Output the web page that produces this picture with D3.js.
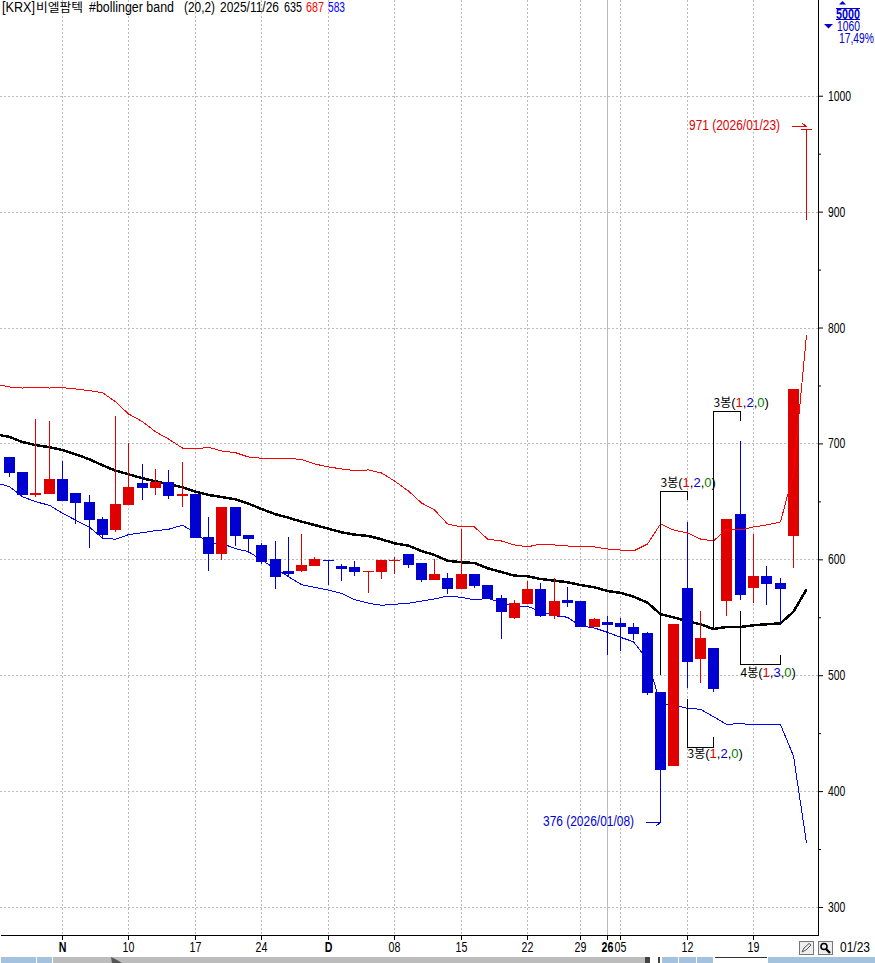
<!DOCTYPE html>
<html>
<head>
<meta charset="utf-8">
<style>
    html, body { margin: 0; padding: 0; background: #fff; overflow: hidden; }
    svg { display: block; }
    text { font-family: "Liberation Sans", sans-serif; font-size: 14px; }
    .note { font-size: 13px; }
    .kr { font-family: "Noto Sans CJK KR", sans-serif; font-size: 12px; }
</style>
</head>
<body>
<div id="chart"></div>
<script src="https://cdn.jsdelivr.net/npm/d3@7"></script>
<script>
// trading days, first one only carries the band lines (its candle is off screen)
const dates = ["10/27","10/28","10/29","10/30","10/31","11/03","11/04","11/05","11/06","11/07","11/10","11/11","11/12","11/13","11/14","11/17","11/18","11/19","11/20","11/21","11/24","11/25","11/26","11/27","11/28","12/01","12/02","12/03","12/04","12/05","12/08","12/09","12/10","12/11","12/12","12/15","12/16","12/17","12/18","12/19","12/22","12/23","12/24","12/26","12/29","12/30","01/02","01/05","01/06","01/07","01/08","01/09","01/12","01/13","01/14","01/15","01/16","01/19","01/20","01/21","01/22","01/23"];

const opens = [688.3,675.4,655.5,656.4,669.3,657.2,649.5,634.8,625.3,646.9,665.9,661.5,666.7,654.7,656.4,619.3,604.6,645.2,621,612.4,600.3,589.9,589.9,594.2,599.4,594.2,593.4,589,589,598.6,604.6,596.8,582.2,583.9,574.4,587.3,577.8,566.6,549.4,561.5,574.4,551.1,564.9,564,541.6,545.9,545,541.6,536.4,485.5,421.7,575.3,514,523.5,564,639.1,575.3,585.6,579.6,620.1,970.5];
const closes = [674.5,655.5,657.2,669.3,650.3,648.6,633.9,621,647.7,662.4,661.5,666.7,654.7,656.4,618.4,604.6,645.2,620.1,617.5,597.7,584.8,587.3,595.1,600.3,598.6,591.7,589,589.9,599.4,599.4,595.1,582.2,587.3,574.4,587.3,576.9,565.8,554.6,562.3,574.4,551.1,564,562.3,541.6,548.5,543.3,541.6,535.6,484.6,418.2,544.2,511.4,532.1,488.1,634.8,569.2,585.6,578.7,574.4,746.9,971];
const highs = [688.3,675.4,721.1,719.4,684.9,657.2,655.5,636.5,723.7,700.4,682.3,677.9,677.1,684,656.4,636.5,645.2,645.2,621,614.1,615.8,619.3,621.9,602,599.4,596,598.6,589.9,599.4,602,604.6,596.8,600.3,588.2,626.2,587.3,577.8,569.2,564.9,581.3,579.6,583.9,576.1,564,549.4,551.1,549.4,545,537.3,485.5,544.2,632.2,555.4,523.5,634.8,702.1,621.9,594.2,583.9,746.9,971];
const lows = [671,655.5,653.8,656.4,650.3,630.5,609.8,617.5,623.6,646.9,651.2,655.5,652.1,645.2,618.4,589.9,599.4,611.5,605.5,596,574.4,585.6,589,594.2,577.8,581.3,585.6,570.9,583,587.3,592.5,580.4,582.2,570.1,574.4,575.3,565.8,531.3,548.5,561.5,550.3,548.5,558.9,541.6,541.6,517.5,520.9,530.4,482.9,373.3,421.7,488.9,493.3,485.5,551.1,564.9,562.3,560.6,545,592.5,892.8];

const upperBand = [751,748.7,747.8,748.3,747.8,748.1,747,745.5,743.8,736,725.4,718.8,710.1,703.8,696,695.2,696.7,693.5,692,688.3,687.2,687.2,687.2,686.1,682.3,679.7,678,676.6,677.1,674.5,667.6,658.9,648.6,642.6,630.5,627.9,627.9,617.5,615.8,612.4,610.7,613.2,612.4,611.5,611.1,610.7,608.9,608,607.2,613.2,630.5,625.3,622.7,617.5,615.8,626.2,625.3,627.9,629.6,632.2,674.5,793.6];
const midBand = [707.7,705.6,701.2,698.6,696.7,694.3,690.6,686.3,681.1,676.5,673.4,669.9,667.3,664.7,662.2,658.4,655.5,653.8,651.8,648,643.4,638.9,635.9,632.5,629.6,626.4,623.3,621.3,620.1,617.3,613.8,611.8,607.2,603.7,598.8,597.4,596.8,592.3,589,585.9,585.4,583,581.6,580.2,577.8,575.9,572.7,571,567.8,562.6,552.6,550,546.5,543.9,539.9,541.6,541.6,543.1,543.9,544.8,554.8,574.1];
const lowerBand = [665.9,662.7,654,649.7,646.6,639.7,633.9,627.6,618.4,617.3,621.3,623,624.7,625.9,629.4,623,613.8,613.8,609.2,606.6,599.4,591.9,585,578.1,575.9,573.5,570.7,565.2,562.1,560.3,561.2,562.1,564,565.8,568.3,567.2,564.9,566.4,562.6,559.7,559.5,554.8,551.4,550,542.5,540.7,537,532.7,528.9,513.1,475.2,474.6,471.4,470.6,464.2,457.6,458.2,457.3,457.3,457.3,430.3,355.2];

const priceTicks = [300,400,500,600,700,800,900,1000];
const minorTicks = [350,450,550,650,750,850,950];
const tickDates = ["11/03","11/10","11/17","11/24","12/01","12/08","12/15","12/22","12/29","01/02","01/05","01/12","01/19"];
const tickLabels = ["N","10","17","24","D","08","15","22","29","26","05","12","19"];
const boldLabels = ["N","D","26"];

// bar-count notes: the two dates a bracket spans, the price of its bar and of each leg's end
const brackets = [
    {from: "01/08", to: "01/12", price: 658.9, end0: 500.2, end1: 651.2, labelPrice: 666.7, label: "3봉", counts: [1,2,0]},
    {from: "01/14", to: "01/16", price: 728, end0: 539, end1: 719.4, labelPrice: 735.7, label: "3봉", counts: [1,2,0]},
    {from: "01/12", to: "01/14", price: 438, end0: 479.5, end1: 446.7, labelPrice: 432.9, label: "3봉", counts: [1,2,0]},
    {from: "01/16", to: "01/21", price: 509.7, end0: 555.4, end1: 517.5, labelPrice: 502.8, label: "4봉", counts: [1,3,0]}
];

const titleParts = ["[KRX]", "비엘팜텍", "#bollinger band", "(20,2)", "2025/11/26", "635", "687", "583"];
const titleX = [2, 36, 89, 184, 220, 284, 306, 328];
const titleW = [33, 47, 85, 31, 59, 18, 18, 17];
const titleColour = ["#000", "#000", "#000", "#000", "#000", "#000", "#ff0000", "#0000ff"];

const width = 875, height = 963, plotRight = 818, plotBottom = 935;
const RED = "#e00000", BLUE = "#0000d0";

// the original font is narrower than anything installed
const squeeze = (sel, w) => sel.each(function (d, i) {
    const target = typeof w === "function" ? w.call(this, d, i) : this.getComputedTextLength() * w;
    this.setAttribute("textLength", target);
    this.setAttribute("lengthAdjust", "spacingAndGlyphs");
});

const svg = d3.select("#chart").append("svg")
    .attr("width", width)
    .attr("height", height);

const x = d3.scalePoint().domain(dates).range([-3.99, 806.7]);
// snap every date to a whole pixel column
const xPx = d3.scaleOrdinal(dates, dates.map(d => Math.floor(x(d))));
const y = d3.scaleLinear().domain([275.84, 1082.6]).range([plotBottom, 0]);
const yPx = v => Math.round(y(v));

const candles = opens.map((o, i) => ({
    date: dates[i + 1], open: o, close: closes[i], high: highs[i], low: lows[i]
}));

// grid
svg.append("g").selectAll("line")
    .data(priceTicks)
    .join("line")
    .attr("x1", 0).attr("x2", plotRight)
    .attr("y1", d => yPx(d) + .5).attr("y2", d => yPx(d) + .5)
    .attr("stroke", "#bbb").attr("stroke-dasharray", "2 2");

svg.append("g").selectAll("line")
    .data(tickDates)
    .join("line")
    .attr("x1", d => xPx(d) + .5).attr("x2", d => xPx(d) + .5)
    .attr("y1", 0).attr("y2", plotBottom)
    .attr("stroke", "#bbb")
    .attr("stroke-dasharray", d => d === "01/02" ? null : "2 2");

const bandLine = d3.line().x((d, i) => xPx(dates[i]) + .5).y(d => y(d));

const drawBand = (values, colour, w) => svg.append("path")
    .attr("d", bandLine(values))
    .attr("fill", "none")
    .attr("stroke", colour)
    .attr("stroke-width", w)
    .attr("shape-rendering", "crispEdges");

drawBand(lowerBand, "#0000ff", 1);
drawBand(midBand, "#000", 2.5);

// candles
const candle = svg.append("g").selectAll("g")
    .data(candles)
    .join("g")
    .attr("fill", d => d.close >= d.open ? RED : BLUE);

candle.append("rect")
    .attr("x", d => xPx(d.date))
    .attr("width", 1)
    .attr("y", d => yPx(d.high))
    .attr("height", d => yPx(d.low) - yPx(d.high));

candle.append("rect")
    .attr("x", d => xPx(d.date) - 5)
    .attr("width", 11)
    .attr("y", d => yPx(Math.max(d.open, d.close)))
    .attr("height", d => Math.max(1, yPx(Math.min(d.open, d.close)) - yPx(Math.max(d.open, d.close))));

drawBand(upperBand, "#ff0000", 1);

// high and low call-outs
const callout = (date, price, colour, text, textX, dy, head) => {
    const px = xPx(date) + 1, py = yPx(price) + dy + .5;
    const g = svg.append("g").attr("stroke", colour).attr("fill", "none").attr("shape-rendering", "crispEdges");
    g.append("line").attr("x1", px - 15).attr("x2", px).attr("y1", py).attr("y2", py);
    g.append("path").attr("d", `M${px - 5},${py + head}L${px},${py}`);
    svg.append("text").attr("x", textX).attr("y", py + 3).attr("fill", colour).text(text).call(squeeze, () => 91);
};
callout("01/23", 971, RED, "971 (2026/01/23)", 689, -3, -3);
callout("01/08", 373.3, BLUE, "376 (2026/01/08)", 543, 0, 3);

// brackets
brackets.forEach(b => {
    const x0 = xPx(b.from) + .5, x1 = xPx(b.to) + .5, yy = yPx(b.price) + .5;
    svg.append("path")
        .attr("d", `M${x0},${yPx(b.end0)}V${yy}H${x1}V${yPx(b.end1)}`)
        .attr("fill", "none").attr("stroke", "#000")
        .attr("shape-rendering", "crispEdges");
    const t = svg.append("text").attr("class", "note").attr("x", x0).attr("y", yPx(b.labelPrice) + 5).attr("fill", "#000");
    t.append("tspan").attr("class", "kr").text(b.label);
    t.append("tspan").text("(");
    ["#e00000", "#0000d0", "#008000"].forEach((c, i) => {
        t.append("tspan").attr("fill", c).text(b.counts[i]);
        t.append("tspan").text(i < 2 ? "," : ")");
    });
});

// axes
const yAxis = d3.axisRight(y).tickValues(priceTicks).tickSize(5).tickSizeOuter(0).tickPadding(5).tickFormat(d3.format("d"));
const yMinor = d3.axisRight(y).tickValues(minorTicks).tickSize(3).tickSizeOuter(0).tickFormat("");

svg.append("g").attr("transform", `translate(${plotRight},0)`).call(yMinor).select(".domain").remove();
const yG = svg.append("g").attr("transform", `translate(${plotRight},0)`).call(yAxis);
yG.select(".domain").remove();
yG.selectAll("text").call(squeeze, .74);

const labelOf = d3.scaleOrdinal(tickDates, tickLabels);
const xAxis = d3.axisBottom(xPx).tickValues(tickDates).tickSize(5).tickSizeOuter(0).tickPadding(2).tickFormat(d => labelOf(d));
const xG = svg.append("g").attr("transform", `translate(0,${plotBottom})`).call(xAxis);
xG.select(".domain").remove();
xG.selectAll("text")
    .attr("font-weight", d => boldLabels.includes(labelOf(d)) ? "bold" : null)
    .call(squeeze, .76);

// frame
svg.append("path")
    .attr("d", `M1,${plotBottom + .5}H${plotRight + .5}V0`)
    .attr("fill", "none").attr("stroke", "#000")
    .attr("shape-rendering", "crispEdges");

// title line
svg.append("g").selectAll("text")
    .data(titleParts)
    .join("text")
    .attr("class", (d, i) => i === 1 ? "kr" : null)
    .attr("x", (d, i) => titleX[i])
    .attr("y", 12)
    .attr("fill", (d, i) => titleColour[i])
    .text(d => d)
    .call(squeeze, (d, i) => titleW[i]);

// scale box, top right
svg.append("path").attr("d", "M839,4.5L842.5,1L846,4.5Z").attr("fill", BLUE);
svg.append("path").attr("d", "M824,24H833L828.5,28.5Z").attr("fill", BLUE);
svg.append("path").attr("d", "M836,8.5H860M836,19.5H860").attr("stroke", BLUE).attr("shape-rendering", "crispEdges");
svg.append("text").attr("x", 836).attr("y", 19).attr("fill", BLUE).attr("font-weight", "bold").text("5000").call(squeeze, () => 24);
svg.append("text").attr("x", 837).attr("y", 31).attr("fill", BLUE).text("1060").call(squeeze, () => 23);
svg.append("text").attr("x", 839).attr("y", 43).attr("fill", BLUE).text("17,49%").call(squeeze, () => 35);

// last date and the two buttons
svg.append("text").attr("x", 840).attr("y", 952).attr("fill", "#000").text("01/23").call(squeeze, () => 30);
[799, 818].forEach(bx => {
    svg.append("rect").attr("x", bx + .5).attr("y", 941.5).attr("width", 14).attr("height", 13)
        .attr("fill", "#eee").attr("stroke", "#777").attr("shape-rendering", "crispEdges");
});
svg.append("path").attr("d", "M802,952L804,948L809,943.5L811,945L806,950L802,952Z").attr("fill", "none").attr("stroke", "#555");
svg.append("circle").attr("cx", 824).attr("cy", 946.5).attr("r", 3).attr("fill", "none").attr("stroke", "#000").attr("stroke-width", 1.6);
svg.append("path").attr("d", "M826,949L830,953").attr("stroke", "#000").attr("stroke-width", 2.4);

// strip of the window below the chart, cut off by the screenshot
const strip = [
    [1, 35, "#a4c2dd"], [37, 15, "#a4c2dd"], [53, 592, "#bcbcbc"], [645, 5, "#444"], [650, 8, "#fff"], [658, 2, "#444"],
    [662, 16, "#a4c2dd"], [679, 17, "#a4c2dd"], [697, 16, "#a4c2dd"], [715, 52, "#fff"], [768, 107, "#a4c2dd"]
];
svg.append("g").selectAll("rect")
    .data(strip)
    .join("rect")
    .attr("x", d => d[0]).attr("y", 957).attr("width", d => d[1]).attr("height", 6)
    .attr("fill", d => d[2]);
svg.append("path").attr("d", "M111,957L112,963H122L117,960Z").attr("fill", "#555");
svg.append("path").attr("d", "M715,957.5H767").attr("stroke", "#333");
</script>
</body>
</html>
